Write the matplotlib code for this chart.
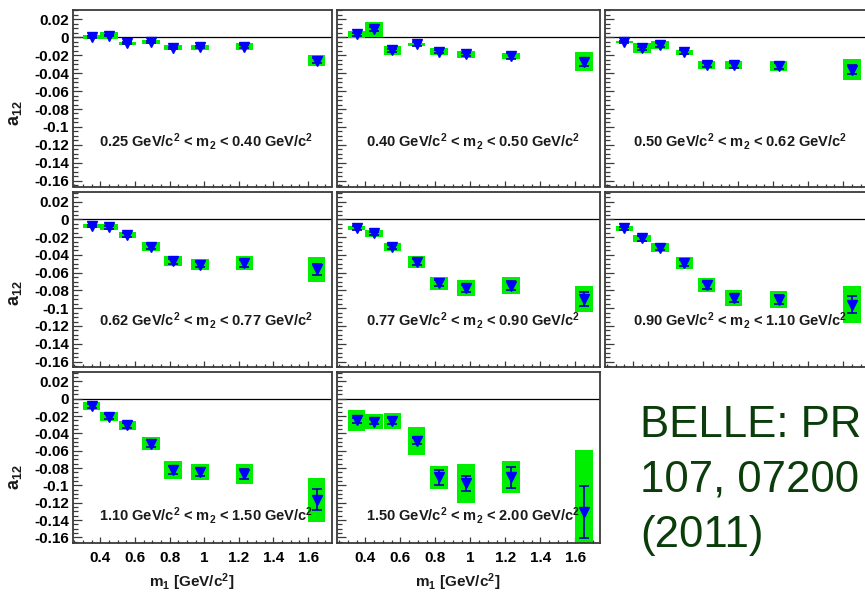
import matplotlib
matplotlib.use("Agg")
import matplotlib.pyplot as plt
from matplotlib.ticker import MultipleLocator, FixedLocator, FixedFormatter

plt.rcParams['font.family'] = ['Liberation Sans', 'DejaVu Sans']
plt.rcParams['mathtext.fontset'] = 'custom'
plt.rcParams['mathtext.rm'] = 'Liberation Sans:bold'
plt.rcParams['mathtext.it'] = 'Liberation Sans:bold'
plt.rcParams['mathtext.bf'] = 'Liberation Sans:bold'

# m1 bin centres [GeV/c^2]
m1 = [0.35, 0.45, 0.555, 0.693, 0.82, 0.975, 1.232, 1.65]

# m2 bin labels, one per panel
m2_bins = [
    ("0.25", "0.40"), ("0.40", "0.50"), ("0.50", "0.62"), ("0.62", "0.77"),
    ("0.77", "0.90"), ("0.90", "1.10"), ("1.10", "1.50"), ("1.50", "2.00"),
]

# a12 asymmetry per m2 bin (rows) and m1 bin (columns)
a12_bin1 = [0.000, 0.002, -0.0065, -0.0055, -0.0115, -0.011, -0.0105, -0.026]
a12_bin2 = [0.0035, 0.009, -0.0145, -0.0075, -0.016, -0.019, -0.021, -0.0275]
a12_bin3 = [-0.0052, -0.0123, -0.0086, -0.0167, -0.0312, -0.0312, -0.032, -0.036]
a12_bin4 = [-0.0074, -0.0089, -0.0178, -0.0306, -0.0471, -0.0509, -0.0494, -0.0564]
a12_bin5 = [-0.0098, -0.0158, -0.031, -0.0479, -0.072, -0.0774, -0.0746, -0.090]
a12_bin6 = [-0.010, -0.0215, -0.0317, -0.0494, -0.0741, -0.0887, -0.0902, -0.096]
a12_bin7 = [-0.0082, -0.0206, -0.0308, -0.0518, -0.0824, -0.0846, -0.0869, -0.1164]
a12_bin8 = [-0.0251, -0.0263, -0.0256, -0.0488, -0.0909, -0.0978, -0.0906, -0.1306]

# statistical uncertainties
stat_bin1 = [0.001, 0.001, 0.001, 0.001, 0.001, 0.001, 0.0015, 0.003]
stat_bin2 = [0.0015, 0.002, 0.002, 0.002, 0.002, 0.002, 0.003, 0.004]
stat_bin3 = [0.0015, 0.002, 0.002, 0.002, 0.002, 0.0025, 0.003, 0.005]
stat_bin4 = [0.0015, 0.002, 0.002, 0.0025, 0.003, 0.003, 0.004, 0.006]
stat_bin5 = [0.002, 0.002, 0.0025, 0.003, 0.0035, 0.004, 0.005, 0.0078]
stat_bin6 = [0.002, 0.0025, 0.003, 0.0035, 0.004, 0.0045, 0.005, 0.0093]
stat_bin7 = [0.002, 0.003, 0.003, 0.004, 0.0045, 0.005, 0.006, 0.0117]
stat_bin8 = [0.003, 0.003, 0.003, 0.004, 0.0084, 0.0089, 0.012, 0.0304]

# systematic uncertainties (green boxes)
sys_bin1 = [0.0024, 0.004, 0.0017, 0.0024, 0.0024, 0.0028, 0.0037, 0.0063]
sys_bin2 = [0.0037, 0.0083, 0.005, 0.0017, 0.0037, 0.0037, 0.0032, 0.0106]
sys_bin3 = [0.0015, 0.0056, 0.0046, 0.0028, 0.0043, 0.0043, 0.0061, 0.0115]
sys_bin4 = [0.0019, 0.0033, 0.0033, 0.0046, 0.0058, 0.0065, 0.008, 0.0137]
sys_bin5 = [0.0024, 0.0035, 0.0043, 0.0063, 0.0071, 0.0087, 0.0097, 0.0147]
sys_bin6 = [0.0026, 0.0041, 0.005, 0.0067, 0.0076, 0.0093, 0.0097, 0.021]
sys_bin7 = [0.0045, 0.005, 0.0052, 0.0072, 0.010, 0.0093, 0.0115, 0.0254]
sys_bin8 = [0.0121, 0.0089, 0.0089, 0.0158, 0.013, 0.0225, 0.0182, 0.0716]

a12_all = [a12_bin1, a12_bin2, a12_bin3, a12_bin4, a12_bin5, a12_bin6, a12_bin7, a12_bin8]
stat_all = [stat_bin1, stat_bin2, stat_bin3, stat_bin4, stat_bin5, stat_bin6, stat_bin7, stat_bin8]
sys_all = [sys_bin1, sys_bin2, sys_bin3, sys_bin4, sys_bin5, sys_bin6, sys_bin7, sys_bin8]

y_ticks = [0.02, 0.0, -0.02, -0.04, -0.06, -0.08, -0.10, -0.12, -0.14, -0.16]
y_tick_labels = ["0.02", "0", "-0.02", "-0.04", "-0.06", "-0.08", "-0.1", "-0.12", "-0.14", "-0.16"]
x_ticks = [0.4, 0.6, 0.8, 1.0, 1.2, 1.4, 1.6]
x_tick_labels = ["0.4", "0.6", "0.8", "1", "1.2", "1.4", "1.6"]

W, H = 865, 592
fig = plt.figure(figsize=(W / 100, H / 100), dpi=100)

# pad geometry in pixels (left, right) / (top, bottom)
cols = [(72.7, 332.3), (337.3, 600.0), (605.0, 867.6)]
rows = [(10.0, 186.5), (192.3, 367.3), (372.3, 543.0)]
label_base = [0.228, 0.236, 0.132]

GREEN = "#00ee00"
BLUE = "#0000ff"
FRAME = "#3a3a3a"

for i in range(8):
    r, c = divmod(i, 3)
    x0, x1 = cols[c]
    y0, y1 = rows[r]
    ax = fig.add_axes([x0 / W, 1 - y1 / H, (x1 - x0) / W, (y1 - y0) / H])
    ax.set_xlim(0.24, 1.74)
    ax.set_ylim(-0.1665, 0.0305)

    a = a12_all[i]
    st = stat_all[i]
    sy = sys_all[i]

    ax.axhline(0, color="black", lw=0.9, zorder=1)
    ax.bar(m1, [2 * s for s in sy], bottom=[v - s for v, s in zip(a, sy)],
           width=0.1, color=GREEN, edgecolor="none", zorder=2)
    ax.errorbar(m1, a, yerr=st, fmt="none", ecolor="#0000b0", elinewidth=1.2,
                capsize=3.5, capthick=1.2, zorder=3)
    ax.plot(m1, a, linestyle="none", marker="v", ms=6.5, color=BLUE,
            markeredgecolor=BLUE, zorder=4)

    lo, hi = m2_bins[i]
    ax.text(0.515, label_base[r],
            lo + r" GeV/c$^{2}$ < m$_{2}$ < " + hi + r" GeV/c$^{2}$",
            transform=ax.transAxes, ha="center", va="baseline",
            fontsize=10.5, fontweight="bold", color="#1a1a1a", zorder=5)

    for sp in ax.spines.values():
        sp.set_color(FRAME)
        sp.set_linewidth(1.3)

    ax.yaxis.set_major_locator(FixedLocator(y_ticks))
    ax.yaxis.set_minor_locator(MultipleLocator(0.005))
    ax.xaxis.set_major_locator(FixedLocator(x_ticks))
    ax.xaxis.set_minor_locator(MultipleLocator(0.05))
    ax.tick_params(axis="y", which="major", direction="in", length=6.7, width=0.9,
                   color=FRAME, pad=2.5, labelsize=11)
    ax.tick_params(axis="y", which="minor", direction="in", length=3.6, width=0.9,
                   color=FRAME)
    ax.tick_params(axis="x", which="major", direction="in", length=4.3, width=0.9,
                   color=FRAME, pad=6, labelsize=11)
    ax.tick_params(axis="x", which="minor", direction="in", length=2.2, width=0.9,
                   color=FRAME)

    if c == 0:
        ax.yaxis.set_major_formatter(FixedFormatter(y_tick_labels))
        for lab in ax.get_yticklabels():
            lab.set_fontweight("bold")
        fig.text(15 / W, 1 - [113, 293, 477][r] / H, r"a$_{12}$", rotation=90,
                 ha="center", va="center", fontsize=13, fontweight="bold",
                 color="#1a1a1a")
    else:
        ax.set_yticklabels([])

    if r == 2:
        ax.xaxis.set_major_formatter(FixedFormatter(x_tick_labels))
        for lab in ax.get_xticklabels():
            lab.set_fontweight("bold")
        ax.text(0.46, -0.228, r"m$_{1}$ [GeV/c$^{2}$]", transform=ax.transAxes,
                ha="center", va="center", fontsize=11, fontweight="bold",
                color="#1a1a1a")
    else:
        ax.set_xticklabels([])

# reference note, as far as it fits on the canvas
ref_lines = ["BELLE: PR", "107, 07200", "(2011)"]
ref_baselines = [436.7, 491.7, 546.7]
for line, yb in zip(ref_lines, ref_baselines):
    fig.text(640 / W, 1 - yb / H, line, fontsize=31.5, color="#0b3d0b",
             family="Liberation Sans", ha="left", va="baseline")

fig.savefig("out.png", dpi=100)
